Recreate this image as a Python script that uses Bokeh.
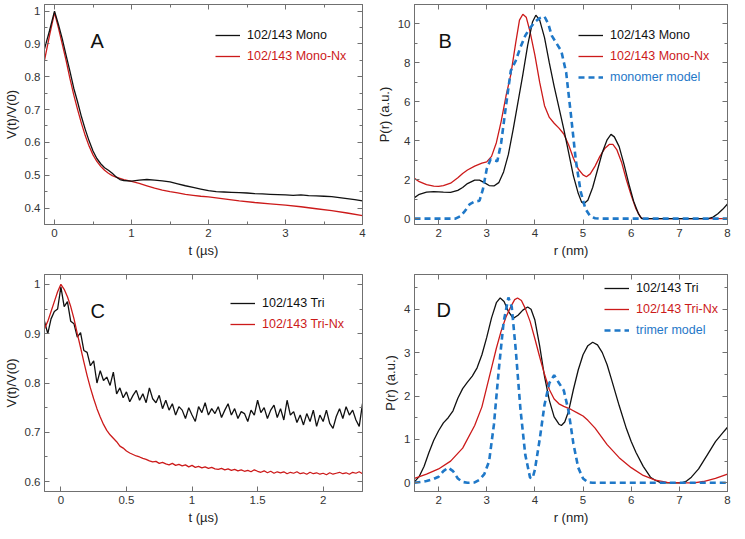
import numpy as np
from bokeh.plotting import figure
from bokeh.models import (LinearAxis, SingleIntervalTicker, CustomJSTickFormatter,
                          Range1d, Legend, LegendItem, Label, CustomLabelingPolicy)
from bokeh.layouts import column, row
from bokeh.embed import file_html
from bokeh.resources import INLINE

# ---------------- data ----------------
# Panel A : V(t)/V(0) vs t (us)
a_mono_t = [-0.13, -0.065, 0.0, 0.05, 0.1, 0.15, 0.2, 0.25, 0.3, 0.35, 0.4, 0.45, 0.5, 0.55, 0.6,
            0.65, 0.7, 0.75, 0.8, 0.85, 0.9, 1.0, 1.1, 1.2, 1.3, 1.4, 1.5, 1.6, 1.7, 1.8, 1.9,
            2.0, 2.1, 2.2, 2.3, 2.4, 2.5, 2.6, 2.7, 2.8, 2.9, 3.0, 3.1, 3.2, 3.3, 3.4, 3.5,
            3.6, 3.7, 3.8, 3.9, 4.0]
a_mono_v = [0.885, 0.94, 1.0, 0.96, 0.916, 0.866, 0.817, 0.765, 0.723, 0.678, 0.639, 0.604, 0.574,
            0.551, 0.535, 0.523, 0.515, 0.506, 0.495, 0.487, 0.484, 0.482, 0.485, 0.487, 0.485,
            0.483, 0.480, 0.474, 0.468, 0.463, 0.458, 0.453, 0.450, 0.449, 0.448, 0.447, 0.446,
            0.444, 0.443, 0.442, 0.441, 0.440, 0.439, 0.440, 0.438, 0.437, 0.436, 0.435, 0.432,
            0.429, 0.426, 0.422]
a_monx_t = [-0.13, -0.065, 0.0, 0.05, 0.1, 0.15, 0.2, 0.25, 0.3, 0.35, 0.4, 0.45, 0.5, 0.55, 0.6,
            0.65, 0.7, 0.75, 0.8, 0.9, 1.0, 1.1, 1.2, 1.3, 1.4, 1.5, 1.6, 1.7, 1.8, 1.9, 2.0,
            2.2, 2.4, 2.6, 2.8, 3.0, 3.2, 3.4, 3.6, 3.8, 4.0]
a_monx_v = [0.85, 0.925, 0.995, 0.95, 0.9, 0.85, 0.795, 0.745, 0.70, 0.658, 0.62, 0.588, 0.562,
            0.542, 0.527, 0.515, 0.506, 0.499, 0.494, 0.487, 0.481, 0.475, 0.468, 0.461, 0.455,
            0.450, 0.446, 0.442, 0.439, 0.436, 0.434, 0.428, 0.422, 0.417, 0.413, 0.409, 0.404,
            0.398, 0.392, 0.385, 0.377]

# Panel B : P(r) vs r (nm)
b_mono_r = [1.5, 1.6, 1.75, 1.9, 2.0, 2.1, 2.25, 2.4, 2.5, 2.6, 2.75, 2.85, 2.95, 3.05, 3.15, 3.25,
            3.35, 3.45, 3.55, 3.65, 3.75, 3.85, 3.95, 4.02, 4.1, 4.2, 4.3, 4.4, 4.5, 4.6, 4.7,
            4.8, 4.9, 4.97, 5.02, 5.1, 5.2, 5.3, 5.4, 5.5, 5.58, 5.65, 5.75, 5.85, 5.95, 6.05,
            6.15, 6.22, 6.4, 7.0, 7.6, 7.7, 7.8, 7.9, 8.0]
b_mono_p = [1.08, 1.25, 1.36, 1.39, 1.38, 1.36, 1.35, 1.45, 1.6, 1.8, 1.98, 1.98, 1.85, 1.7, 1.68,
            1.85, 2.4, 3.3, 4.6, 6.0, 7.4, 8.9, 10.1, 10.45, 10.2, 9.3, 8.0, 6.8, 5.7, 4.6, 3.4,
            2.2, 1.3, 0.85, 0.78, 0.95, 1.6, 2.5, 3.4, 4.05, 4.33, 4.2, 3.7, 2.8, 1.8, 0.9,
            0.25, 0.0, 0.0, 0.0, 0.0, 0.08, 0.25, 0.48, 0.75]
b_monx_r = [1.5, 1.6, 1.75, 1.9, 2.0, 2.1, 2.25, 2.4, 2.5, 2.6, 2.75, 2.9, 3.0, 3.1, 3.2, 3.3,
            3.4, 3.5, 3.6, 3.68, 3.75, 3.82, 3.9, 4.0, 4.1, 4.2, 4.3, 4.4, 4.5, 4.6, 4.7, 4.8,
            4.9, 5.0, 5.07, 5.15, 5.25, 5.35, 5.45, 5.55, 5.62, 5.7, 5.8, 5.9, 6.0, 6.1, 6.2,
            6.25, 8.0]
b_monx_p = [2.07, 1.9, 1.75, 1.67, 1.66, 1.7, 1.82, 2.1, 2.32, 2.5, 2.7, 2.85, 2.92, 3.2, 3.9,
            5.0, 6.3, 7.4, 9.0, 10.2, 10.5, 10.35, 9.6, 8.4, 7.0, 5.8, 5.2, 4.9, 4.65, 4.35,
            3.8, 3.1, 2.55, 2.25, 2.15, 2.3, 2.7, 3.2, 3.6, 3.82, 3.82, 3.55, 2.9, 2.0, 1.2,
            0.5, 0.05, 0.0, 0.0]
b_model_r = [1.5, 2.35, 2.45, 2.55, 2.65, 2.75, 2.85, 2.92, 3.0, 3.08, 3.15, 3.22, 3.3, 3.4, 3.5,
             3.6, 3.7, 3.8, 3.9, 4.0, 4.1, 4.2, 4.28, 4.35, 4.45, 4.55, 4.65, 4.75, 4.85, 4.95,
             5.05, 5.15, 5.25, 5.35, 8.0]
b_model_p = [0.0, 0.0, 0.12, 0.4, 0.75, 0.88, 0.92, 1.5, 2.55, 3.05, 3.0, 2.95, 3.9, 5.8, 7.6,
             8.1, 8.8, 9.4, 9.8, 10.1, 10.3, 10.38, 10.0, 9.4, 9.0, 8.6, 7.5, 5.3, 3.0, 1.4,
             0.5, 0.12, 0.02, 0.0, 0.0]

# Panel C : V(t)/V(0) vs t (us), sampled every 0.025 us from -0.125 us
c_t0, c_dt = -0.125, 0.025
c_tri_v = [0.925, 0.900, 0.930, 0.945, 0.950, 0.995, 0.955, 0.965, 0.925, 0.920,
           0.893, 0.902, 0.866, 0.862, 0.835, 0.845, 0.800, 0.825, 0.805, 0.812,
           0.795, 0.822, 0.778, 0.790, 0.770, 0.782, 0.762, 0.775, 0.785, 0.765,
           0.778, 0.760, 0.790, 0.768, 0.760, 0.775, 0.748, 0.765, 0.745, 0.758,
           0.735, 0.752, 0.745, 0.728, 0.750, 0.735, 0.722, 0.752, 0.740, 0.760,
           0.735, 0.748, 0.738, 0.752, 0.730, 0.745, 0.758, 0.735, 0.748, 0.728,
           0.742, 0.738, 0.722, 0.745, 0.735, 0.765, 0.740, 0.750, 0.728, 0.745,
           0.755, 0.730, 0.748, 0.725, 0.765, 0.735, 0.742, 0.720, 0.735, 0.715,
           0.738, 0.722, 0.745, 0.712, 0.735, 0.722, 0.745, 0.718, 0.708, 0.732,
           0.748, 0.728, 0.752, 0.735, 0.745, 0.725, 0.712, 0.758]
c_trix_v = [0.910, 0.925, 0.945, 0.965, 0.985, 1.000, 0.990, 0.975, 0.955, 0.930,
            0.900, 0.872, 0.843, 0.815, 0.790, 0.768, 0.748, 0.731, 0.716, 0.704,
            0.695, 0.688, 0.681, 0.672, 0.668, 0.662, 0.658, 0.655, 0.652, 0.650,
            0.647, 0.645, 0.642, 0.640, 0.641, 0.637, 0.639, 0.636, 0.634, 0.637,
            0.633, 0.635, 0.632, 0.634, 0.630, 0.633, 0.629, 0.631, 0.628, 0.630,
            0.627, 0.629, 0.626, 0.625, 0.627, 0.624, 0.626, 0.623, 0.625, 0.622,
            0.624, 0.621, 0.623, 0.620, 0.624, 0.621, 0.619, 0.622, 0.618, 0.621,
            0.617, 0.620, 0.618, 0.620, 0.616, 0.619, 0.617, 0.620, 0.616, 0.618,
            0.615, 0.619, 0.616, 0.618, 0.615, 0.617, 0.614, 0.618, 0.615, 0.617,
            0.619, 0.616, 0.618, 0.615, 0.619, 0.617, 0.620, 0.616]

# Panel D : P(r) vs r (nm)
d_tri_r = [1.5, 1.6, 1.7, 1.8, 1.9, 2.0, 2.1, 2.2, 2.3, 2.4, 2.5, 2.6, 2.7, 2.8, 2.9, 3.0, 3.1,
           3.2, 3.28, 3.36, 3.45, 3.55, 3.65, 3.75, 3.85, 3.92, 4.0, 4.1, 4.2, 4.3, 4.4, 4.5,
           4.55, 4.62, 4.7, 4.8, 4.9, 5.0, 5.1, 5.2, 5.3, 5.4, 5.5, 5.6, 5.75, 5.9, 6.0, 6.1,
           6.25, 6.4, 6.5, 6.6, 6.75, 7.05, 7.15, 7.25, 7.4, 7.5, 7.6, 7.75, 7.9, 8.0]
d_tri_p = [0.02, 0.15, 0.38, 0.7, 0.98, 1.2, 1.38, 1.5, 1.66, 1.95, 2.17, 2.32, 2.46, 2.65, 2.95,
           3.35, 3.8, 4.15, 4.26, 4.18, 3.95, 3.79, 3.86, 3.98, 4.05, 4.0, 3.75, 3.15, 2.45,
           1.9, 1.52, 1.35, 1.32, 1.4, 1.65, 2.15, 2.6, 2.95, 3.16, 3.24, 3.18, 3.0, 2.72,
           2.35, 1.78, 1.25, 0.95, 0.7, 0.38, 0.13, 0.06, 0.01, 0.0, 0.0, 0.04, 0.13, 0.32,
           0.5, 0.68, 0.95, 1.15, 1.28]
d_trix_r = [1.5, 1.75, 2.0, 2.25, 2.5, 2.75, 2.9, 3.0, 3.1, 3.2, 3.3, 3.4, 3.5, 3.58, 3.64, 3.72,
            3.8, 3.9, 4.0, 4.1, 4.2, 4.3, 4.4, 4.5, 4.6, 4.75, 4.9, 5.0, 5.1, 5.25, 5.5, 5.75,
            6.0, 6.25, 6.5, 6.75, 7.0, 7.3, 7.5, 7.75, 8.0]
d_trix_p = [0.1, 0.2, 0.32, 0.5, 0.8, 1.32, 1.75, 2.2, 2.65, 3.1, 3.5, 3.82, 4.06, 4.22, 4.26,
            4.2, 4.02, 3.72, 3.32, 2.9, 2.5, 2.15, 1.93, 1.82, 1.76, 1.69, 1.6, 1.54, 1.44,
            1.26, 0.88, 0.58, 0.35, 0.17, 0.06, 0.01, 0.0, 0.0, 0.03, 0.1, 0.2]
d_model_r = [1.5, 1.75, 1.9, 2.0, 2.1, 2.2, 2.3, 2.4, 2.5, 2.6, 2.75, 2.85, 2.95, 3.05, 3.15,
             3.25, 3.35, 3.45, 3.52, 3.6, 3.7, 3.8, 3.9, 3.95, 4.0, 4.1, 4.2, 4.3, 4.4, 4.5,
             4.6, 4.7, 4.8, 4.9, 5.0, 5.1, 5.2, 8.0]
d_model_p = [0.0, 0.04, 0.09, 0.14, 0.27, 0.35, 0.27, 0.1, 0.02, 0.0, 0.01, 0.07, 0.2, 0.5,
             1.35, 2.6, 3.7, 4.27, 4.05, 3.1, 1.7, 0.65, 0.12, 0.1, 0.3, 1.0, 1.8, 2.3, 2.48,
             2.3, 2.13, 1.65, 0.9, 0.35, 0.1, 0.01, 0.0, 0.0]

# ---------------- styling ----------------
FONT = "Liberation Sans"
AX = "#707070"
BLACK = "#111111"
RED = "#cc1a1a"
BLUE = "#1f78c8"

FMT = "return String(Math.round(tick*1000)/1000);"
HIDE_ALL = "for (const i of indices) indices.unset(i)"


def style_axis(ax, interval, minor, labels=True):
    ax.ticker = SingleIntervalTicker(interval=interval, num_minor_ticks=minor)
    ax.formatter = CustomJSTickFormatter(code=FMT)
    ax.axis_line_color = AX
    ax.major_tick_line_color = AX
    ax.minor_tick_line_color = AX if minor else None
    ax.major_tick_in = 5
    ax.major_tick_out = 0
    ax.minor_tick_in = 3
    ax.minor_tick_out = 0
    ax.major_label_text_font = FONT
    ax.major_label_text_color = "#333333"
    ax.axis_label_text_font = FONT
    ax.axis_label_text_font_style = "normal"
    ax.axis_label_text_font_size = "13px"
    ax.axis_label_text_color = "#222222"
    ax.axis_label_standoff = 3
    if labels:
        ax.major_label_text_font_size = "11.5px"
        ax.major_label_standoff = 4
    else:
        ax.major_label_policy = CustomLabelingPolicy(code=HIDE_ALL)
        ax.major_label_text_font_size = "1px"
        ax.major_label_standoff = 0


def make_panel(xr, yr, xint, xminor, yint, yminor, fw, fh, borders, xlabel, ylabel):
    bl, br, bt, bb = borders
    p = figure(output_backend="svg", toolbar_location=None,
               frame_width=fw, frame_height=fh,
               x_range=Range1d(*xr), y_range=Range1d(*yr),
               min_border_left=bl, min_border_right=br,
               min_border_top=bt, min_border_bottom=bb,
               background_fill_color="white", border_fill_color="white")
    p.grid.visible = False
    p.outline_line_color = AX
    style_axis(p.below[0], xint, xminor)
    style_axis(p.left[0], yint, yminor)
    p.below[0].axis_label = xlabel
    p.left[0].axis_label = ylabel
    top = LinearAxis()
    style_axis(top, xint, xminor, labels=False)
    right = LinearAxis()
    style_axis(right, yint, yminor, labels=False)
    p.add_layout(top, "above")
    p.add_layout(right, "right")
    return p


def add_legend(p, r, label, color, x, y):
    lg = Legend(items=[LegendItem(label=label, renderers=[r])], location=(x, y),
                border_line_color=None, background_fill_alpha=0,
                label_text_color=color, label_text_font=FONT,
                label_text_font_size="12.5px", glyph_width=25, label_standoff=7,
                padding=0, margin=0, spacing=0)
    p.add_layout(lg)


def add_letter(p, text, x, y):
    p.add_layout(Label(x=x, y=y, x_units="screen", y_units="screen", text=text,
                       text_font=FONT, text_font_size="20px", text_color="#111111",
                       text_baseline="alphabetic", text_align="left"))


LW = 1.3

# Panel A
pa = make_panel((-0.13, 4.0), (0.35, 1.02), 1, 2, 0.1, 2, 318, 220, (38, 10, 2, 35),
                "t (µs)", "V(t)/V(0)")
ra2 = pa.line(a_monx_t, a_monx_v, line_color=RED, line_width=LW)
ra1 = pa.line(a_mono_t, a_mono_v, line_color=BLACK, line_width=LW)
add_legend(pa, ra1, "102/143 Mono", BLACK, 171, 179)
add_legend(pa, ra2, "102/143 Mono-Nx", RED, 171, 158)
add_letter(pa, "A", 46, 184)

# Panel B
pb = make_panel((1.5, 8.0), (-0.3, 11.0), 1, 0, 2, 2, 313, 220, (42, 6, 2, 35),
                "r (nm)", "P(r) (a.u.)")
rb2 = pb.line(b_monx_r, b_monx_p, line_color=RED, line_width=LW)
rb1 = pb.line(b_mono_r, b_mono_p, line_color=BLACK, line_width=LW)
rb3 = pb.line(b_model_r, b_model_p, line_color=BLUE, line_width=2.6, line_dash="6 4")
add_legend(pb, rb1, "102/143 Mono", BLACK, 164, 179)
add_legend(pb, rb2, "102/143 Mono-Nx", RED, 164, 158)
add_legend(pb, rb3, "monomer model", BLUE, 164, 137)
add_letter(pb, "B", 24, 184)

# Panel C
c_t = np.round(c_t0 + c_dt * np.arange(len(c_tri_v)), 4)
c_tx = np.round(c_t0 + c_dt * np.arange(len(c_trix_v)), 4)
pc = make_panel((-0.125, 2.3), (0.58, 1.02), 0.5, 0, 0.1, 2, 318, 217, (38, 10, 14, 35),
                "t (µs)", "V(t)/V(0)")
rc1 = pc.line(c_t, c_tri_v, line_color=BLACK, line_width=LW)
rc2 = pc.line(c_tx, c_trix_v, line_color=RED, line_width=LW)
add_legend(pc, rc1, "102/143 Tri", BLACK, 186, 178)
add_legend(pc, rc2, "102/143 Tri-Nx", RED, 186, 157)
add_letter(pc, "C", 46, 181)

# Panel D
pd_ = make_panel((1.5, 8.0), (-0.2, 4.8), 1, 0, 1, 2, 313, 217, (42, 6, 14, 35),
                 "r (nm)", "P(r) (a.u.)")
rd1 = pd_.line(d_tri_r, d_tri_p, line_color=BLACK, line_width=LW)
rd2 = pd_.line(d_trix_r, d_trix_p, line_color=RED, line_width=LW)
rd3 = pd_.line(d_model_r, d_model_p, line_color=BLUE, line_width=2.6, line_dash="6 4")
add_legend(pd_, rd1, "102/143 Tri", BLACK, 190, 193)
add_legend(pd_, rd2, "102/143 Tri-Nx", RED, 190, 172)
add_legend(pd_, rd3, "trimer model", BLUE, 190, 151)
add_letter(pd_, "D", 22, 182)

layout = column(row(pa, pb), row(pc, pd_))
open("out.html", "w").write(file_html(layout, INLINE))
